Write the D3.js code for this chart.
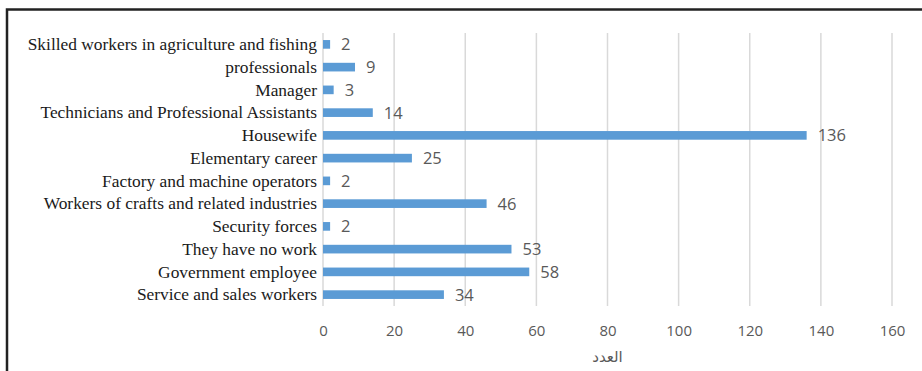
<!DOCTYPE html>
<html>
<head>
<meta charset="utf-8">
<script src="https://cdn.jsdelivr.net/npm/d3@7"></script>
<style>
  html, body { margin: 0; padding: 0; background: #fff; }
  svg { display: block; }
</style>
</head>
<body>
<div id="chart"></div>
<script>
// Occupation categories, top to bottom
const categories = [
  "Skilled workers in agriculture and fishing",
  "professionals",
  "Manager",
  "Technicians and Professional Assistants",
  "Housewife",
  "Elementary career",
  "Factory and machine operators",
  "Workers of crafts and related industries",
  "Security forces",
  "They have no work",
  "Government employee",
  "Service and sales workers"
];
const counts = [2, 9, 3, 14, 136, 25, 2, 46, 2, 53, 58, 34];
const xTicks = [0, 20, 40, 60, 80, 100, 120, 140, 160];
const axisTitle = "العدد";

const width = 922, height = 371;
const margin = { top: 33, right: 30, bottom: 65, left: 323 };

const svg = d3.select("#chart").append("svg")
  .attr("width", width)
  .attr("height", height);

// Outer frame
svg.append("rect")
  .attr("x", 7).attr("y", 9.5)
  .attr("width", width + 10).attr("height", height + 10)
  .attr("fill", "none")
  .attr("stroke", "#222")
  .attr("stroke-width", 2.5);

const x = d3.scaleLinear().domain([0, 160]).range([margin.left, 892]);
const y = d3.scaleBand().domain(categories).range([margin.top, 306]).paddingInner(0.62).paddingOuter(0.31);

// Vertical gridlines
svg.append("g")
  .selectAll("line")
  .data(xTicks.slice(1))
  .join("line")
  .attr("x1", d => x(d)).attr("x2", d => x(d))
  .attr("y1", margin.top).attr("y2", 306)
  .attr("stroke", "#d9d9d9")
  .attr("stroke-width", 1.5);

// Category axis line
svg.append("line")
  .attr("x1", x(0)).attr("x2", x(0))
  .attr("y1", margin.top).attr("y2", 306)
  .attr("stroke", "#d9d9d9")
  .attr("stroke-width", 1.5);

// Bars
svg.append("g")
  .selectAll("rect")
  .data(counts)
  .join("rect")
  .attr("x", x(0))
  .attr("y", (d, i) => y(categories[i]))
  .attr("width", d => x(d) - x(0))
  .attr("height", y.bandwidth())
  .attr("fill", "#5b9bd5");

// Value labels
svg.append("g")
  .selectAll("text")
  .data(counts)
  .join("text")
  .attr("x", d => x(d) + 11)
  .attr("y", (d, i) => y(categories[i]) + y.bandwidth() / 2)
  .attr("dy", "0.36em")
  .attr("font-family", "'Open Sans', 'DejaVu Sans', sans-serif")
  .attr("font-size", 16.5)
  .attr("fill", "#595959")
  .text(d => d);

// Category labels
svg.append("g")
  .selectAll("text")
  .data(categories)
  .join("text")
  .attr("x", 317)
  .attr("y", d => y(d) + y.bandwidth() / 2)
  .attr("dy", "0.33em")
  .attr("text-anchor", "end")
  .attr("font-family", "'Liberation Serif', 'DejaVu Serif', serif")
  .attr("font-size", 17.4)
  .attr("fill", "#1a1a1a")
  .text(d => d);

// X axis tick labels
const xAxis = d3.axisBottom(x).tickValues(xTicks).tickSize(0).tickPadding(0);
const gx = svg.append("g")
  .attr("transform", "translate(0,325)")
  .call(xAxis);
gx.select(".domain").remove();
gx.selectAll("text")
  .attr("font-family", "'Open Sans', 'DejaVu Sans', sans-serif")
  .attr("font-size", 15)
  .attr("fill", "#595959");

// Axis title
svg.append("text")
  .attr("x", (x(0) + x(160)) / 2)
  .attr("y", 362)
  .attr("text-anchor", "middle")
  .attr("font-family", "'Noto Sans', 'DejaVu Sans', sans-serif")
  .attr("font-size", 15)
  .attr("fill", "#595959")
  .text(axisTitle);
</script>
</body>
</html>
